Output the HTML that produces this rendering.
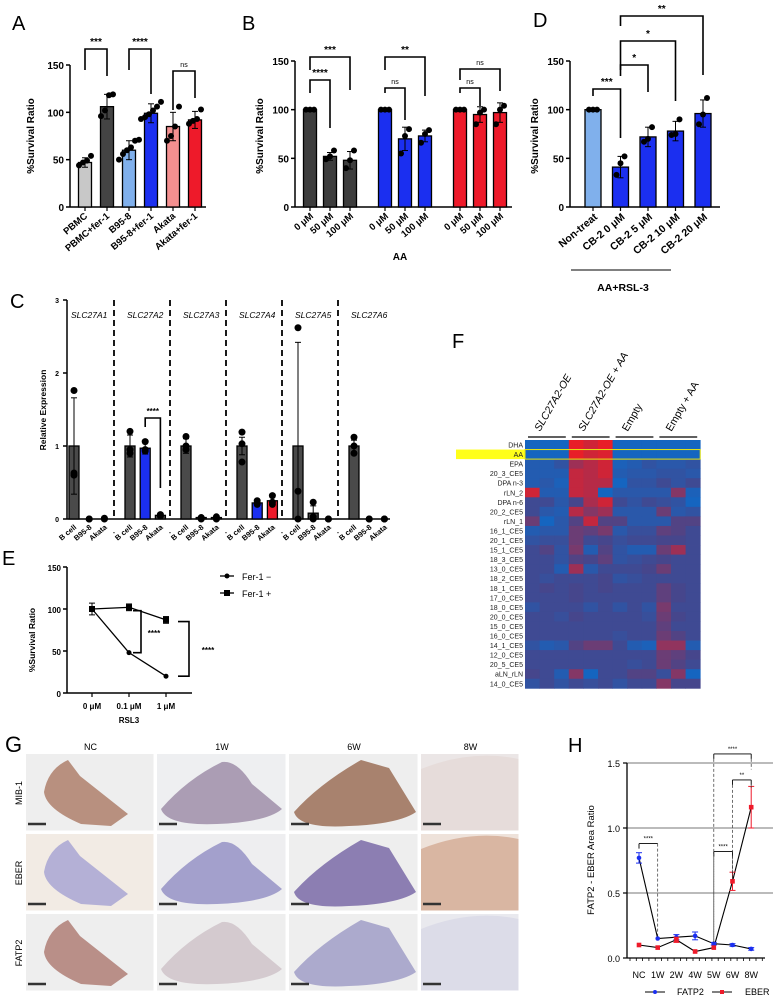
<!DOCTYPE html>
<html><head><meta charset="utf-8"><style>
body{margin:0;background:#fff;}
svg{display:block;font-family:"Liberation Sans",Arial,sans-serif;}
</style></head><body>
<svg id="fig" width="775" height="1000" viewBox="0 0 775 1000" xmlns="http://www.w3.org/2000/svg"></svg>
<script>
// Panel A data
const aCats=['PBMC','PBMC+fer-1','B95-8','B95-8+fer-1','Akata','Akata+fer-1'];
const aVals=[47,106,60,99,85,92];
const aErr=[5,13,10,10,15,9];
const aPts=[[44,47,49,54],[96,102,118,119],[50,56,60,63,70,71],[93,95,98,102,106,111],[70,75,85,106],[88,91,93,103]];
// Panel B data
const bCats=['0 μM','50 μM','100 μM'];
const bVals=[[100,52,48],[100,70,73],[100,95,97]];
const bErr=[[0,4,9],[0,12,6],[0,8,10]];
const bPts=[[[100,100,100],[49,52,58],[40,48,58]],[[100,100,100],[55,73,80],[66,75,79]],[[100,100,100],[85,97,100],[85,100,104]]];
// Panel D data
const dCats=['Non-treat','CB-2 0 μM','CB-2 5 μM','CB-2 10 μM','CB-2 20 μM'];
const dVals=[100,41,72,78,96];
const dErr=[0,11,10,10,14];
const dPts=[[100,100,100],[33,45,52],[67,70,82],[74,75,90],[85,95,112]];
// Panel C data
const cGenes=['SLC27A1','SLC27A2','SLC27A3','SLC27A4','SLC27A5','SLC27A6'];
const cCells=['B cell','B95-8','Akata'];
const cVals=[[1,0,0],[1,0.97,0.05],[1,0.02,0.02],[1,0.22,0.25],[1,0.08,0],[1,0,0]];
const cErr=[[0.66,0,0],[0.15,0.08,0],[0.1,0,0],[0.12,0.03,0.05],[1.42,0.1,0],[0.08,0,0]];
const cPts=[[[1.76,0.63,0.6],[0,0],[0.01,0]],[[1.2,0.9,0.95],[1.06,0.95,0.93],[0.06,0.04]],[[1.13,0.95,1.0],[0.02,0],[0.03,0]],[[1.19,1.03,0.78],[0.25,0.2,0.22],[0.32,0.23,0.2]],[[2.62,0.38,0],[0.23,0,0.03],[0,0]],[[1.12,0.9,1.0],[0,0],[0,0]]];
// Panel E data
const eCats=['0 μM','0.1 μM','1 μM'];
const eMinus=[100,48,20];
const ePlus=[100,102,87];
const eErrPlus=[7,4,4];
// Panel H data
const hCats=['NC','1W','2W','4W','5W','6W','8W'];
const hFatp=[0.77,0.15,0.16,0.17,0.11,0.10,0.07];
const hFatpErr=[0.04,0,0.02,0.03,0.01,0.01,0.01];
const hEber=[0.10,0.08,0.14,0.05,0.08,0.59,1.16];
const hEberErr=[0,0,0.02,0,0,0.07,0.16];
// Panel F data (0=blue,1=red)
const fRows=['DHA','AA','EPA','20_3_CE5','DPA n-3','rLN_2','DPA n-6','20_2_CE5','rLN_1','16_1_CE5','20_1_CE5','15_1_CE5','18_3_CE5','13_0_CE5','18_2_CE5','18_1_CE5','17_0_CE5','18_0_CE5','20_0_CE5','15_0_CE5','16_0_CE5','14_1_CE5','12_0_CE5','20_5_CE5','aLN_rLN','14_0_CE5'];
const fGroups=['SLC27A2-OE','SLC27A2-OE + AA','Empty','Empty + AA'];
const fGrid=[
[0,0,0,1,.9,1,0,0,0,0,0,0],
[0,0,0,1,.9,.95,0,0,0,0,0,0],
[.1,.1,.2,.7,.8,.9,.05,.1,.2,.15,.15,.2],
[.1,.1,.1,.85,.8,.9,.1,.15,.15,.2,.2,.15],
[.1,.15,.05,.85,.8,.8,0,.2,.2,.3,.2,.3],
[.9,.1,.1,.85,.8,0,.15,.15,.15,.15,.6,.05],
[.3,.3,.15,.35,.75,.9,.3,.2,.3,.25,.2,0],
[.3,.15,.1,.8,.6,.7,.15,.15,.15,.5,.15,.2],
[.5,0,.15,.4,.85,.4,.4,.15,.15,.15,.4,.4],
[.1,.15,.15,.5,.45,.55,.15,.25,.25,.45,.4,.3],
[.2,.25,.25,.5,.3,.35,.25,.3,.3,.35,.35,.3],
[.3,.4,.2,.55,.1,.4,.2,.1,.1,.5,.7,.3],
[.3,.3,.2,.4,.35,.45,.2,.25,.3,.35,.3,.3],
[.3,.3,.1,.7,.15,.3,.3,.3,.35,.5,.3,.3],
[.3,.25,.3,.3,.3,.35,.2,.25,.3,.3,.3,.3],
[.3,.35,.3,.35,.3,.35,.3,.3,.3,.45,.35,.3],
[.3,.3,.3,.35,.3,.3,.3,.3,.3,.45,.35,.3],
[.2,.3,.3,.3,.2,.3,.2,.3,.2,.55,.3,.3],
[.3,.3,.25,.35,.3,.3,.3,.3,.25,.5,.35,.3],
[.3,.3,.3,.3,.3,.3,.3,.3,.3,.45,.3,.3],
[.3,.3,.3,.3,.3,.3,.25,.3,.3,.5,.4,.3],
[.2,.1,.15,.4,.5,.5,.3,.1,.05,.65,.65,.1],
[.3,.3,.3,.3,.3,.3,.3,.3,.3,.5,.45,.35],
[.3,.3,.3,.3,.3,.3,.3,.25,.3,.5,.4,.3],
[.35,.3,.1,.6,0,.3,.3,.4,.4,.25,.6,0],
[.2,.3,.2,.3,.25,.3,.2,.3,.3,.6,.35,.35]];

const S=document.getElementById('fig');
const NS='http://www.w3.org/2000/svg';
function mk(tag,attrs,name,parent){
  const el=document.createElementNS(NS,tag);
  for(const k in attrs) el.setAttribute(k,attrs[k]);
  
  
  (parent||S).appendChild(el);
  return el;
}
function tx(x,y,s,opt,name){
  const o=opt||{};
  const t=mk('text',{x:x,y:y,'font-size':o.fs||10,'text-anchor':o.a||'middle','font-weight':o.b?'bold':'normal','font-style':o.i?'italic':'normal',fill:o.c||'#000'},name);
  if(o.r!==undefined) t.setAttribute('transform','rotate('+o.r+' '+x+' '+y+')');
  t.textContent=s;return t;
}
function ln(x1,y1,x2,y2,name,w,c,dash){
  const l=mk('line',{x1:x1,y1:y1,x2:x2,y2:y2,stroke:c||'#000','stroke-width':w||1.5},name);
  if(dash) l.setAttribute('stroke-dasharray',dash);
  return l;
}
function brk(x1,x2,yTop,yL,yR,label,name,fs){
  mk('polyline',{points:x1+','+yL+' '+x1+','+yTop+' '+x2+','+yTop+' '+x2+','+yR,fill:'none',stroke:'#000','stroke-width':1.6},name);
  tx((x1+x2)/2,yTop-4,label,{fs:fs||(label==='ns'?7:10),b:label!=='ns'},name+'-label');
}
function yAxis(x,y0,y1,ticks,lab,sc,name,fs){
  ln(x,y0,x,y1,name+'-line',1.5);
  ticks.forEach(v=>{const y=sc(v);ln(x-4,y,x,y,name+'-tick',1.5);tx(x-6,y+4,String(v),{fs:fs||10,a:'end',b:true},name+'-tick-label');});
}
function bar(cx,w,v,sc,fill,name){
  const y=sc(v),y0=sc(0);
  mk('rect',{x:cx-w/2,y:y,width:w,height:y0-y,fill:fill,stroke:'#000','stroke-width':1.3},name);
}
function err(cx,v,e,sc,name,c){
  if(!e) return;
  ln(cx,sc(v),cx,sc(v+e),name,1,c||'#000');ln(cx-3,sc(v+e),cx+3,sc(v+e),name,1,c||'#000');
  ln(cx,sc(v),cx,sc(Math.max(0,v-e)),name,1,c||'#000');ln(cx-3,sc(Math.max(0,v-e)),cx+3,sc(Math.max(0,v-e)),name,1,c||'#000');
}
function dots(cx,arr,sc,name,r){
  const n=arr.length;
  arr.forEach((v,i)=>{const off=n>1?(i-(n-1)/2)*4:0;mk('circle',{cx:cx+off,cy:sc(v),r:r||3,fill:'#000'},name);});
}

// ---------- Panel A ----------
tx(12,30,'A',{fs:20,a:'start'},'panel-a-letter');
const aY=v=>207-(v/150)*142;
const aX=i=>85+i*22;
yAxis(70,207,65,[0,50,100,150],'',aY,'a-y-axis');
ln(70,207,206,207,'a-x-axis',1.5);
tx(34,136,'%Survival Ratio',{fs:10,b:true,r:-90},'a-y-axis-title');
const aCol=['#c8c8c8','#444','#80b0ec','#1b2ff0','#f49090','#ee1a2a'];
aVals.forEach((v,i)=>{bar(aX(i),13,v,aY,aCol[i],'a-bar-'+i);err(aX(i),v,aErr[i],aY,'a-error-bar');dots(aX(i),aPts[i],aY,'a-point');
  ln(aX(i),207,aX(i),211,'a-x-tick',1.2);
  tx(aX(i)+3,217,aCats[i],{fs:9.5,a:'end',b:true,r:-40},'a-x-label');});
brk(aX(0),aX(1),49,70,76,'***','a-sig-1');
brk(aX(2),aX(3),49,70,94,'****','a-sig-2');
brk(aX(4),aX(5),71,110,98,'ns','a-sig-3');

// ---------- Panel B ----------
tx(242,30,'B',{fs:20,a:'start'},'panel-b-letter');
const bY=v=>207-(v/150)*146;
const bX=(g,i)=>310+g*75+i*20;
yAxis(295,207,61,[0,50,100,150],'',bY,'b-y-axis');
ln(295,207,512,207,'b-x-axis',1.5);
tx(263,136,'%Survival Ratio',{fs:10,b:true,r:-90},'b-y-axis-title');
const bCol=['#3d3d3d','#1b2ff0','#ee1a2a'];
bVals.forEach((g,gi)=>g.forEach((v,i)=>{const x=bX(gi,i);bar(x,13,v,bY,bCol[gi],'b-bar');err(x,v,bErr[gi][i],bY,'b-error-bar');dots(x,bPts[gi][i],bY,'b-point');
  ln(x,207,x,211,'b-x-tick',1.2);tx(x+4,217,bCats[i],{fs:9.5,a:'end',b:true,r:-40},'b-x-label');}));
tx(400,260,'AA',{fs:10,b:true},'b-x-axis-title');
brk(bX(0,0),bX(0,2),57,70,90,'***','b-sig-1');
brk(bX(0,0),bX(0,1),80,93,128,'****','b-sig-2');
brk(bX(1,0),bX(1,2),57,70,96,'**','b-sig-3');
brk(bX(1,0),bX(1,1),88,93,120,'ns','b-sig-4');
brk(bX(2,0),bX(2,2),69,80,91,'ns','b-sig-5');
brk(bX(2,0),bX(2,1),88,93,106,'ns','b-sig-6');

// ---------- Panel D ----------
tx(533,27,'D',{fs:20,a:'start'},'panel-d-letter');
const dY=v=>207-(v/150)*146;
const dX=i=>593+i*27.5;
yAxis(570,207,61,[0,50,100,150],'',dY,'d-y-axis');
ln(570,207,720,207,'d-x-axis',1.5);
tx(538,136,'%Survival Ratio',{fs:10,b:true,r:-90},'d-y-axis-title');
dVals.forEach((v,i)=>{bar(dX(i),16,v,dY,i===0?'#80b0ec':'#1b2ff0','d-bar-'+i);err(dX(i),v,dErr[i],dY,'d-error-bar');dots(dX(i),dPts[i],dY,'d-point');
  ln(dX(i),207,dX(i),211,'d-x-tick',1.2);tx(dX(i)+5,218,dCats[i],{fs:10.5,b:true,a:'end',r:-40},'d-x-label');});
ln(571,270,671,270,'d-group-line',1);
tx(623,291,'AA+RSL-3',{fs:10.5,b:true},'d-group-label');
brk(dX(0),dX(1),89,96,138,'***','d-sig-1');
brk(dX(1),dX(2),65,76,92,'*','d-sig-2');
brk(dX(1),dX(3),41,70,101,'*','d-sig-3');
brk(dX(1),dX(4),16,26,75,'**','d-sig-4');

// ---------- Panel C ----------
tx(10,308,'C',{fs:20,a:'start'},'panel-c-letter');
const cY=v=>519-v*73;
const cX=(g,i)=>74+g*56+i*15.2;
ln(67,519,67,300,'c-y-axis-line',1.5);
[0,1,2,3].forEach(v=>{ln(63,cY(v),67,cY(v),'c-y-tick',1.5);tx(59,cY(v)+3,String(v),{fs:7,a:'end',b:true},'c-y-tick-label');});
ln(67,519,390,519,'c-x-axis',1.5);
tx(46,410,'Relative Expression',{fs:8.5,b:true,r:-90},'c-y-axis-title');
cGenes.forEach((g,gi)=>{
  tx(cX(gi,1),318,g,{fs:8.5,i:true},'c-gene-label');
  if(gi>0){const dx=cX(gi,0)-16;ln(dx,300,dx,519,'c-divider',1.8,'#000','6,4');tx(dx,535,'-',{fs:8},'c-divider-mark');}
  cVals[gi].forEach((v,i)=>{const x=cX(gi,i);let col='#4a4a4a';if(i===1&&(gi===1||gi===3))col='#1b2ff0';if(i===2&&gi===3)col='#ee1a2a';
    bar(x,10,v,cY,col,'c-bar');err(x,v,cErr[gi][i],cY,'c-error-bar');
    cPts[gi][i].forEach(p=>mk('circle',{cx:x,cy:cY(p),r:3.5,fill:'#000'},'c-point'));
    tx(x+3,528,cCells[i],{fs:7.5,b:true,a:'end',r:-40},'c-x-label');});
});
brk(cX(1,1),cX(1,2),418,427,488,'****','c-sig-1',8);

// ---------- Panel E ----------
tx(2,565,'E',{fs:20,a:'start'},'panel-e-letter');
const eY=v=>693-(v/150)*126;
const eX=i=>92+i*37;
yAxis(67,693,567,[0,50,100,150],'',eY,'e-y-axis',8);
ln(67,693,192,693,'e-x-axis',1.5);
tx(35,640,'%Survival Ratio',{fs:8.5,b:true,r:-90},'e-y-axis-title');
eCats.forEach((c,i)=>{ln(eX(i),693,eX(i),697,'e-x-tick',1.2);tx(eX(i),709,c,{fs:8,b:true},'e-x-label');});
tx(129,723,'RSL3',{fs:8,b:true},'e-x-axis-title');
mk('polyline',{points:eMinus.map((v,i)=>eX(i)+','+eY(v)).join(' '),fill:'none',stroke:'#000','stroke-width':1.3},'e-line-fer-minus');
mk('polyline',{points:ePlus.map((v,i)=>eX(i)+','+eY(v)).join(' '),fill:'none',stroke:'#000','stroke-width':1.3},'e-line-fer-plus');
eMinus.forEach((v,i)=>mk('circle',{cx:eX(i),cy:eY(v),r:2.5,fill:'#000'},'e-point-fer-minus'));
ePlus.forEach((v,i)=>{err(eX(i),v,eErrPlus[i],eY,'e-error-bar');mk('rect',{x:eX(i)-3,y:eY(v)-3,width:6,height:6,fill:'#000'},'e-point-fer-plus');});
mk('polyline',{points:(eX(1)+4)+','+eY(98)+' '+(eX(1)+12)+','+eY(98)+' '+(eX(1)+12)+','+eY(48)+' '+(eX(1)+4)+','+eY(48),fill:'none',stroke:'#000','stroke-width':1.6},'e-sig-1');
tx(eX(1)+25,636,'****',{fs:8,b:true},'e-sig-1-label');
mk('polyline',{points:(eX(2)+12)+','+eY(85)+' '+(eX(2)+23)+','+eY(85)+' '+(eX(2)+23)+','+eY(20)+' '+(eX(2)+12)+','+eY(20),fill:'none',stroke:'#000','stroke-width':1.6},'e-sig-2');
tx(eX(2)+42,653,'****',{fs:8,b:true},'e-sig-2-label');
ln(220,576,234,576,'e-legend-line',1.3);mk('circle',{cx:227,cy:576,r:2.5,fill:'#000'},'e-legend-marker');
tx(242,580,'Fer-1 −',{fs:9,a:'start'},'e-legend-fer-minus');
ln(220,593,234,593,'e-legend-line',1.3);mk('rect',{x:224,y:590,width:6,height:6,fill:'#000'},'e-legend-marker');
tx(242,597,'Fer-1 +',{fs:9,a:'start'},'e-legend-fer-plus');

// ---------- Panel F ----------
tx(452,348,'F',{fs:20,a:'start'},'panel-f-letter');
const fx0=525,fy0=440,cw=14.6,rh=9.55;
function hcol(v){const b=[21,101,192],m=[70,70,140],r=[232,30,40];let c;
  if(v<0.35){const t=v/0.35;c=b.map((x,k)=>x+(m[k]-x)*t);}else{const t=(v-0.35)/0.65;c=m.map((x,k)=>x+(r[k]-x)*t);}
  return 'rgb('+c.map(Math.round).join(',')+')';}
mk('rect',{x:456,y:fy0+rh,width:fx0-456,height:rh,fill:'#ffff1a'},'f-highlight-aa');
fGrid.forEach((row,ri)=>{row.forEach((v,ci)=>{mk('rect',{x:fx0+ci*cw,y:fy0+ri*rh,width:cw+0.4,height:rh+0.4,fill:hcol(v)},'f-cell');});
  tx(fx0-2,fy0+ri*rh+7.5,fRows[ri],{fs:7,a:'end',c:'#222'},'f-row-label');});
mk('rect',{x:fx0,y:fy0+rh,width:cw*12,height:rh,fill:'none',stroke:'#e5e510','stroke-width':1},'f-aa-box');
fGroups.forEach((g,gi)=>{const x1=fx0+gi*3*cw+3,x2=x1+3*cw-6;ln(x1,437,x2,437,'f-group-bar',1.3);
  tx(x1+12,432,g,{fs:10.5,a:'start',r:-60,i:gi<2},'f-group-label');});

// ---------- Panel G ----------
tx(5,752,'G',{fs:22,a:'start'},'panel-g-letter');
const gCols=['NC','1W','6W','8W'];const gRows=['MIB-1','EBER','FATP2'];
const gX=[26,157,289,421],gY=[754,834,914],gW=[129,130,130,99],gH=78;
const gTint=[['#b8907f','#ab9db4','#a8826e','#e6dcda'],['#b4b0d6','#a3a0cc','#8c7eb2','#d9b6a2'],['#b98f88','#d4cacf','#acaacd','#dcdce8']];
const gBg=[['#eeeeee','#eeeff1','#eeeeee','#ebe6e6'],['#f2ebe4','#eeeef0','#eeeeee','#eee2da'],['#eeeeee','#eeeeee','#eeeeee','#e9e9ee']];
gCols.forEach((c,ci)=>tx(gX[ci]+gW[ci]/2,750,c,{fs:9},'g-col-label'));
gRows.forEach((r,ri)=>{tx(22,gY[ri]+gH/2,r,{fs:9,r:-90},'g-row-label');
  gCols.forEach((c,ci)=>{const x=gX[ci],y=gY[ri],w=gW[ci];
    mk('rect',{x:x,y:y,width:w-1.5,height:gH-1.5,fill:gBg[ri][ci]},'g-image-'+c+'-'+r);
    let p;
    if(ci===0)p=`M${x+42},${y+6} L${x+54},${y+22} L${x+102},${y+60} L${x+85},${y+72} L${x+55},${y+70} Q${x+20},${y+55} ${x+18},${y+38} Q${x+22},${y+15} ${x+42},${y+6}Z`;
    else if(ci===1)p=`M${x+4},${y+55} Q${x+30},${y+25} ${x+65},${y+8} Q${x+80},${y+6} ${x+95},${y+30} L${x+125},${y+55} Q${x+110},${y+68} ${x+60},${y+70} Q${x+10},${y+72} ${x+4},${y+55}Z`;
    else if(ci===2)p=`M${x+5},${y+58} Q${x+30},${y+30} ${x+72},${y+6} L${x+100},${y+14} L${x+127},${y+58} Q${x+110},${y+70} ${x+60},${y+72} Q${x+10},${y+75} ${x+5},${y+58}Z`;
    else p=`M${x},${y+15} Q${x+50},${y-5} ${x+w-1.5},${y+5} L${x+w-1.5},${y+gH-1.5} L${x},${y+gH-1.5}Z`;
    mk('path',{d:p,fill:gTint[ri][ci]},'g-tissue');
    ln(x+2,y+gH-8,x+20,y+gH-8,'g-scale-bar',2.5,'#333');
  });});

// ---------- Panel H ----------
tx(568,752,'H',{fs:20,a:'start'},'panel-h-letter');
const hY=v=>958-(v/1.5)*195;
const hX=i=>639+[0,1,2,3,4,5,6][i]*18.7;
[0.5,1.0,1.5].forEach(v=>ln(627,hY(v),773,hY(v),'h-gridline',1,'#777'));
ln(627,958,627,763,'h-y-axis',1.3);ln(627,958,765,958,'h-x-axis',1.3);
[0,0.5,1.0,1.5].forEach(v=>{ln(623,hY(v),627,hY(v),'h-y-tick',1.2);tx(620,hY(v)+4,v.toFixed(1),{fs:9,a:'end'},'h-y-tick-label');});
for(let k=0;k<22;k++)ln(630+k*6.3,958,630+k*6.3,961,'h-minor-tick',0.8);
tx(594,860,'FATP2 - EBER  Area Ratio',{fs:9.5,r:-90},'h-y-axis-title');
hCats.forEach((c,i)=>tx(hX(i),978,c,{fs:9},'h-x-label'));
mk('polyline',{points:hFatp.map((v,i)=>hX(i)+','+hY(v)).join(' '),fill:'none',stroke:'#000','stroke-width':1.1},'h-line-fatp2');
mk('polyline',{points:hEber.map((v,i)=>hX(i)+','+hY(v)).join(' '),fill:'none',stroke:'#000','stroke-width':1.1},'h-line-eber');
hFatp.forEach((v,i)=>{err(hX(i),v,hFatpErr[i],hY,'h-error-fatp2','#1b2ff0');mk('circle',{cx:hX(i),cy:hY(v),r:2.3,fill:'#1b2ff0'},'h-point-fatp2');});
hEber.forEach((v,i)=>{err(hX(i),v,hEberErr[i],hY,'h-error-eber','#ee1a2a');mk('rect',{x:hX(i)-2.3,y:hY(v)-2.3,width:4.6,height:4.6,fill:'#ee1a2a'},'h-point-eber');});
function hbr(i1,i2,yv,d1,d2,lab,name){const y=hY(yv);
  ln(hX(i1),y,hX(i2),y,name,0.9);ln(hX(i1),y,hX(i1),y+5,name,0.9);ln(hX(i2),y,hX(i2),y+5,name,0.9);
  ln(hX(i1),y+5,hX(i1),hY(d1),name+'-guide',0.7,'#333','3,2');ln(hX(i2),y+5,hX(i2),hY(d2),name+'-guide',0.7,'#333','3,2');
  tx((hX(i1)+hX(i2))/2,y-3,lab,{fs:6},name+'-label');}
const h1=hY(0.88);ln(hX(0),h1,hX(1),h1,'h-sig-1',0.9);ln(hX(0),h1,hX(0),h1+5,'h-sig-1',0.9);ln(hX(1),h1,hX(1),hY(0.15),'h-sig-1-guide',0.7,'#333','3,2');tx((hX(0)+hX(1))/2,h1-3,'****',{fs:6},'h-sig-1-label');
hbr(4,5,0.82,0.12,0.6,'****','h-sig-2');
hbr(5,6,1.37,0.6,1.3,'**','h-sig-3');
hbr(4,6,1.57,0.12,1.45,'****','h-sig-4');
ln(645,992,665,992,'h-legend-line-fatp2',1);mk('circle',{cx:655,cy:992,r:2,fill:'#1b2ff0'},'h-legend-marker-fatp2');
tx(677,995,'FATP2',{fs:9,a:'start'},'h-legend-fatp2');
ln(712,992,732,992,'h-legend-line-eber',1);mk('rect',{x:720,y:990,width:4,height:4,fill:'#ee1a2a'},'h-legend-marker-eber');
tx(745,995,'EBER',{fs:9,a:'start'},'h-legend-eber');
</script>
</body></html>
